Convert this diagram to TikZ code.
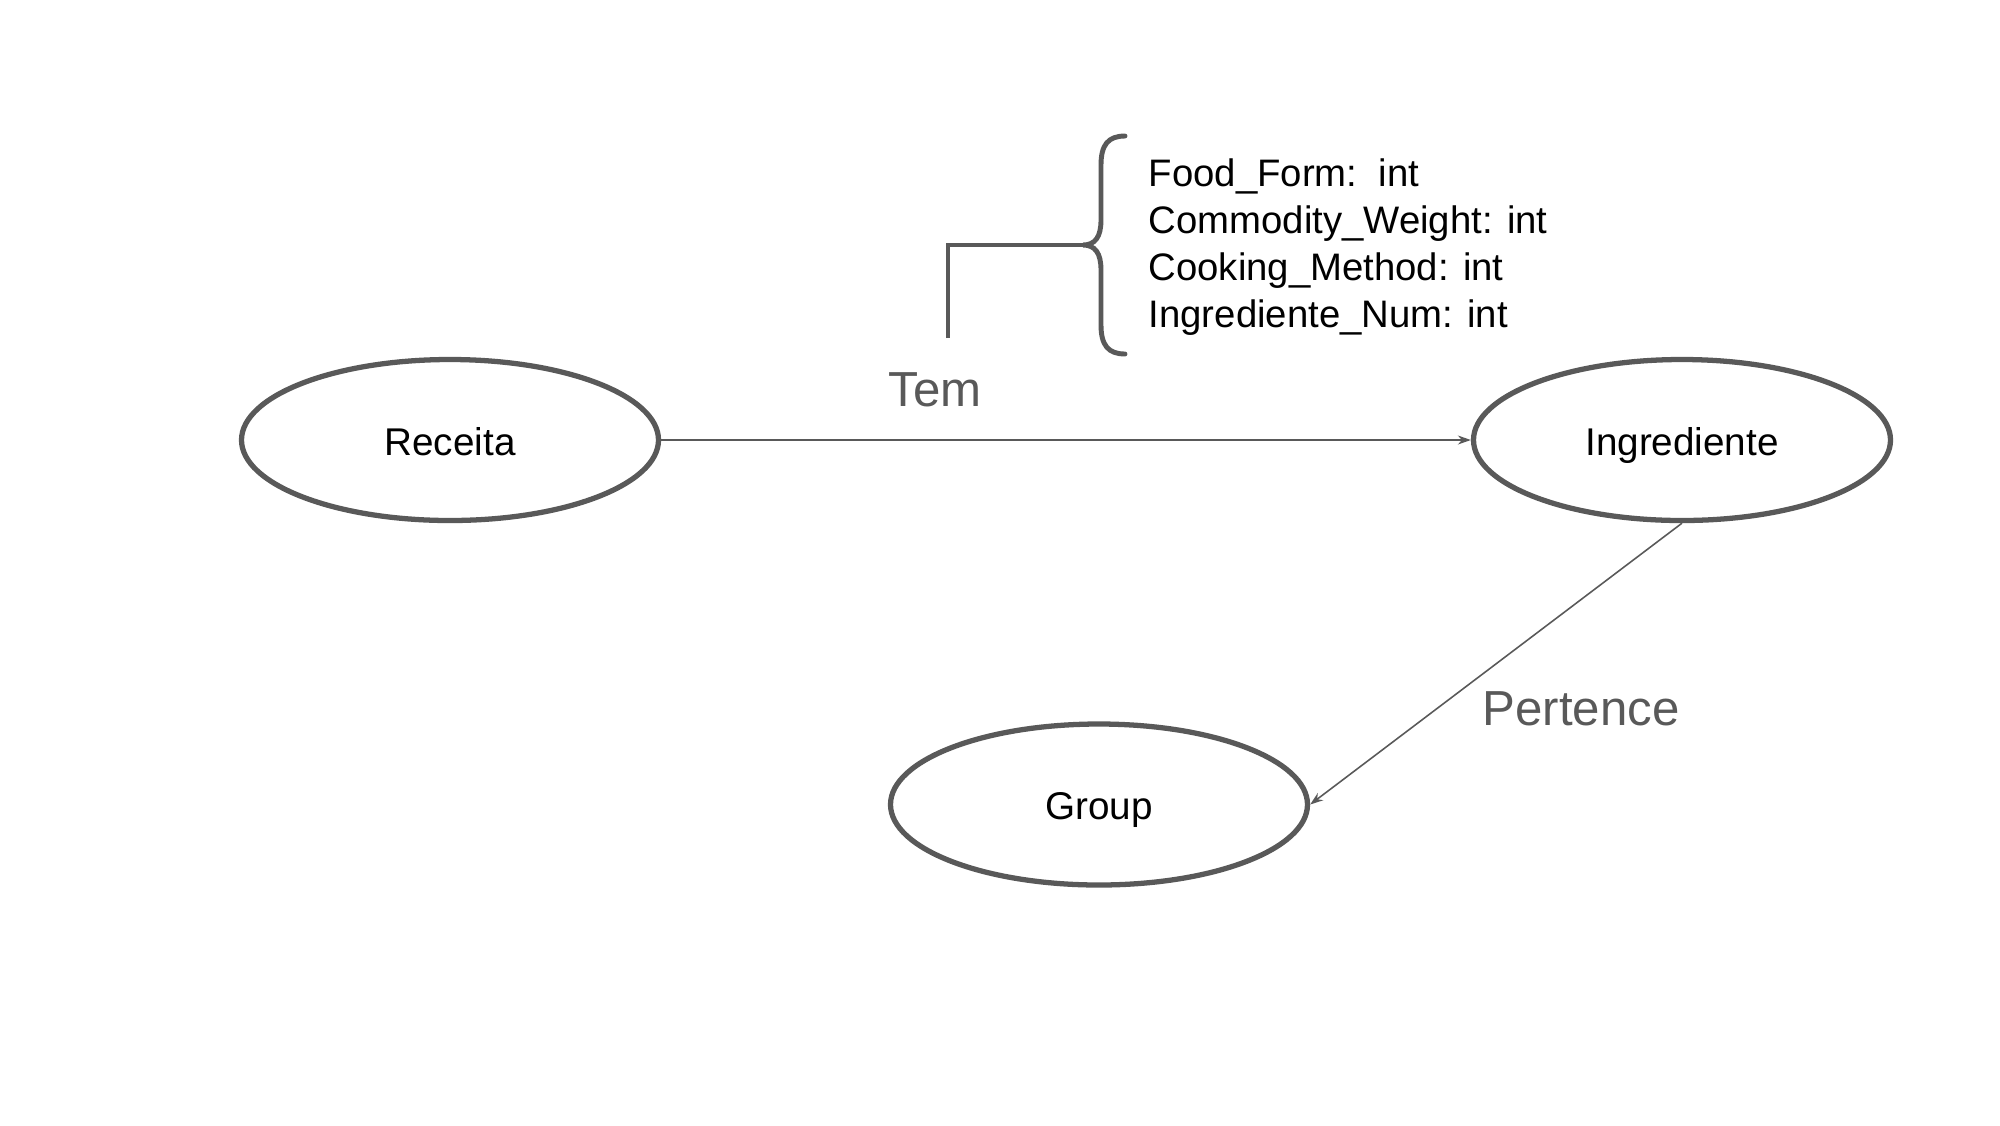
\documentclass[tikz,border=0pt]{standalone}
\usepackage{fontspec}
\setmainfont{Liberation Sans}
\usetikzlibrary{shapes.geometric,arrows.meta}
\definecolor{edgegray}{HTML}{595959}
\tikzset{
  entity/.style={ellipse, draw=edgegray, line width=1.5pt, minimum width=4.17cm, minimum height=1.61cm, inner sep=0pt, font=\fontsize{11}{13}\selectfont, text=black, text height=10.4pt, text depth=1.6pt},
  relarrow/.style={draw=edgegray, line width=0.45pt, -{Stealth[length=0.13cm,width=0.09cm]}},
  rellabel/.style={anchor=base west, inner sep=0pt, text=edgegray, font=\fontsize{14}{16}\selectfont},
  attr/.style={anchor=base west, inner sep=0pt, text=black, font=\fontsize{10.9}{12}\selectfont},
  bracket/.style={draw=edgegray, line width=1.4pt}
}
\begin{document}
\begin{tikzpicture}
\useasboundingbox (0,0) rectangle (20,-11.25);
\node[entity] (rec) at (4.50,-4.40) {Receita};
\node[entity] (ing) at (16.82,-4.40) {Ingrediente};
\node[entity] (grp) at (10.99,-8.045) {Group};
\draw[relarrow] (rec.east) -- (ing.west);
\draw[relarrow] (ing.south) -- (grp.east);
\node[rellabel] (tem) at (8.88,-4.06) {Tem};
\node[rellabel] (pert) at (14.82,-7.25) {Pertence};
% bracket and brace
\coordinate (bl) at (9.48,-3.38);
\coordinate (bc) at (9.48,-2.45);
\coordinate (tip) at (10.83,-2.45);
\draw[bracket] (bl) -- (bc) -- (tip);
\draw[bracket, line cap=round] (11.25,-1.36) .. controls (11.08,-1.36) and (11.01,-1.45) .. (11.01,-1.65)
  -- (11.01,-2.20) .. controls (11.01,-2.37) and (10.95,-2.45) .. (tip)
  .. controls (10.95,-2.45) and (11.01,-2.53) .. (11.01,-2.70)
  -- (11.01,-3.25) .. controls (11.01,-3.45) and (11.08,-3.54) .. (11.25,-3.54);
\node[attr] (a1) at (11.48,-1.86) {Food\_Form:\ \ int};
\node[attr] (a2) at (11.48,-2.33) {Commodity\_Weight: int};
\node[attr] (a3) at (11.48,-2.80) {Cooking\_Method: int};
\node[attr] (a4) at (11.48,-3.27) {Ingrediente\_Num: int};
\end{tikzpicture}
\end{document}
